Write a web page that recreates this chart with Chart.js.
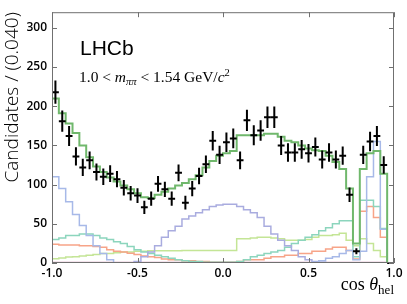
<!DOCTYPE html>
<html><head><meta charset="utf-8">
<script src="https://cdn.jsdelivr.net/npm/chart.js@4/dist/chart.umd.min.js"></script>
<style>html,body{margin:0;padding:0;background:#fff;overflow:hidden}</style>
</head><body>
<canvas id="c" width="407" height="304"></canvas>
<script>
// ---- binning / ticks ----
const binLow = -1.0;
const binWidth = 0.04;
const xTicks = [-1.0, -0.5, 0.0, 0.5, 1.0];
const yTicks = [0, 50, 100, 150, 200, 250, 300];

// ---- data (candidates per bin) ----
const dataCounts = [218,181,162,136,122,131,116,110,114,107,96,89,86,71,82,101,94,82,115,77,95,111,126,156,138,154,159,131,182,163,169,186,186,150,141,141,145,140,148,132,141,132,137,87,15,138,155,162,125,0];
const dataErrors = [14.8,13.5,12.7,11.7,11.0,11.4,10.8,10.5,10.7,10.3,9.8,9.4,9.3,8.4,9.1,10.0,9.7,9.1,10.7,8.8,9.7,10.5,11.2,12.5,11.7,12.4,12.6,11.4,13.5,12.8,13.0,13.6,13.6,12.2,11.9,11.9,12.0,11.8,12.2,11.5,11.9,11.5,11.7,9.3,3.9,11.7,12.4,12.7,11.2,0];

// ---- fit total and components ----
const fitTotal = [210,191,178,166,150,135,123,116,109,104,99,94,89,84,83,87,91,95,99,102,107,112,122,130,137,140,143,163,163,163,163,165,165,161,156,154,150,146,144,143,137,129,120,95,25,120,140,143,114,0];
const compBlueA = [110,95,78,62,48,35,22,12,4,0,0,0,0,0,0,0,0,0,0,0,0,0,0,0,0,0,0,0,0,0,0,0,0,0,0,0,0,0,1,3,6,8,12,16,4,15,110,155,43,0];
const compBlueB = [0,0,0,0,0,0,0,0,0,0,0,0,2,8,14,22,33,41,47,56,60,64,68,72,74,75,75,72,68,64,58,47,37,29,22,16,8,4,2,1,0,0,0,0,0,0,0,0,0,0];
const compTeal = [30,32,35,35,37,37,35,32,30,27,25,21,17,14,12,10,8,6,4,3,2,2,1,1,1,1,1,2,4,8,10,12,14,16,20,25,29,33,36,41,45,50,54,54,8,80,80,72,44,0];
const compSalmon = [24,23,23,23,22,22,21,20,17,15,14,12.5,11,9,8,7,5,4,4,3,3,2,2,1,1,1,1,2,4,4,4,6,8,8,10,10,12,12,15,15,18,20,20,16,5,66,72,58,33,0];
const compLime = [5.5,6.5,7.5,8,9,10,11,12,12,13,14,14,15,15,15.5,15.5,15.5,15.5,15.5,16,16,16,16,16,16,16,16,31,31,32,33,33,32,31,29,29,29,30,33,35,35,36,38,29,22,31,25,16,8,0];
const compPink = [0.6,0.6,0.6,0.6,0.6,0.6,0.6,0.6,0.6,0.6,0.6,0.6,0.6,0.6,0.6,0.6,0.6,0.6,0.6,0.6,0.6,0.6,0.6,0.6,0.6,0.6,0.6,0.6,0.6,0.6,0.6,0.6,0.6,0.6,0.6,0.6,0.6,0.6,0.6,0.6,0.6,0.6,0.6,0.6,0.6,0.6,0.6,0.6,0.6,0];

function stepPoints(vals){
  const pts = vals.map((v,i)=>({x: binLow + i*binWidth, y: v}));
  pts.push({x: binLow + vals.length*binWidth, y: vals[vals.length-1]});
  return pts;
}
function ds(vals, color, w){
  return {data: stepPoints(vals), borderColor: color, borderWidth: w, stepped: true,
          pointRadius: 0, fill: false, tension: 0};
}

const frameAndText = {
  id: 'frameAndText',
  afterDatasetsDraw(chart){
    const {ctx, scales: {x, y}} = chart;
    ctx.save();
    ctx.strokeStyle = '#000'; ctx.lineWidth = 2;
    dataCounts.forEach((n,i)=>{
      const xl = x.getPixelForValue(binLow + i*binWidth);
      const xr = x.getPixelForValue(binLow + (i+1)*binWidth);
      const xc = x.getPixelForValue(binLow + (i+0.5)*binWidth);
      const yc = y.getPixelForValue(n);
      const yt = y.getPixelForValue(n + dataErrors[i]);
      const yb = y.getPixelForValue(Math.max(0, n - dataErrors[i]));
      ctx.beginPath();
      ctx.moveTo(xl, yc); ctx.lineTo(xr, yc);
      if (dataErrors[i] > 0){ ctx.moveTo(xc, yt); ctx.lineTo(xc, yb); }
      ctx.stroke();
    });
    ctx.restore();
  },
  afterDraw(chart){
    const {ctx, chartArea: a, scales: {x, y}} = chart;
    ctx.save();
    ctx.strokeStyle = '#707070'; ctx.lineWidth = 1;
    ctx.strokeRect(a.left + 0.5, a.top + 0.5, a.right - a.left - 1, a.bottom - a.top - 1);
    ctx.beginPath();
    yTicks.forEach(v=>{
      const py = Math.round(y.getPixelForValue(v)) + 0.5;
      ctx.moveTo(a.left, py); ctx.lineTo(a.left + 5, py);
      ctx.moveTo(a.right, py); ctx.lineTo(a.right - 5, py);
    });
    xTicks.forEach(v=>{
      const px = Math.round(x.getPixelForValue(v)) + 0.5;
      ctx.moveTo(px, a.bottom); ctx.lineTo(px, a.bottom - 5);
      ctx.moveTo(px, a.top); ctx.lineTo(px, a.top + 5);
    });
    ctx.stroke();

    ctx.fillStyle = '#000';
    ctx.textBaseline = 'alphabetic';
    ctx.font = '21px "Liberation Sans"';
    ctx.textAlign = 'left';
    ctx.fillText('LHCb', 80, 55);
    let cx = 79; const by = 82;
    const parts = [
      ['1.0 < ', '15.5px "Liberation Serif"', 0],
      ['m', 'italic 15.5px "Liberation Serif"', 0],
      ['ππ', 'italic 10.5px "Liberation Serif"', 3],
      [' < 1.54 GeV/', '15.5px "Liberation Serif"', 0],
      ['c', 'italic 15.5px "Liberation Serif"', 0],
      ['2', '10.5px "Liberation Serif"', -6]
    ];
    parts.forEach(([t,f,dy])=>{ ctx.font = f; ctx.fillText(t, cx, by + dy); cx += ctx.measureText(t).width; });
    const xt = [
      ['cos ', '18px "Liberation Serif"', 0],
      ['θ', 'italic 18px "Liberation Serif"', 0],
      ['hel', '13px "Liberation Serif"', 4]
    ];
    let tw = 0;
    xt.forEach(([t,f])=>{ ctx.font = f; tw += ctx.measureText(t).width; });
    cx = a.right - tw;
    xt.forEach(([t,f,dy])=>{ ctx.font = f; ctx.fillText(t, cx, 290 + dy); cx += ctx.measureText(t).width; });
    ctx.restore();
  }
};

const tickFont = {family: '"Open Sans"', size: 12, weight: '600'};

new Chart(document.getElementById('c'), {
  type: 'line',
  data: {
    datasets: [
      ds(fitTotal, '#70b86c', 2),
      ds(compBlueA, '#a7b9e8', 1.5),
      ds(compBlueB, '#a9acdf', 1.5),
      ds(compTeal, '#8cd5bd', 1.5),
      ds(compSalmon, '#f7a488', 1.5),
      ds(compLime, '#c4e596', 1.5),
      ds(compPink, '#cf8fb5', 1.5)
    ]
  },
  options: {
    responsive: false,
    animation: false,
    layout: {padding: {left: 0, right: 13, top: 7, bottom: 0}},
    plugins: {legend: {display: false}, tooltip: {enabled: false}},
    scales: {
      x: {
        type: 'linear', min: -1, max: 1,
        afterBuildTicks: s => { s.ticks = xTicks.map(v=>({value: v})); },
        afterFit: s => { s.height = 41; },
        grid: {display: false, drawTicks: false},
        border: {display: false},
        ticks: {callback: v => Number(v).toFixed(1), font: tickFont, color: '#000', padding: 3, maxRotation: 0, autoSkip: false}
      },
      y: {
        type: 'linear', min: 0, max: 320,
        afterBuildTicks: s => { s.ticks = yTicks.map(v=>({value: v})); },
        afterFit: s => { s.width = 52; },
        grid: {display: false, drawTicks: false},
        border: {display: false},
        ticks: {font: tickFont, color: '#000', padding: 5},
        title: {display: true, text: 'Candidates / (0.040)', align: 'end', color: '#000',
                font: {family: '"Open Sans"', size: 19, weight: '300'}, padding: {top: 1, bottom: 0}}
      }
    }
  },
  plugins: [frameAndText]
});
</script>
</body></html>
